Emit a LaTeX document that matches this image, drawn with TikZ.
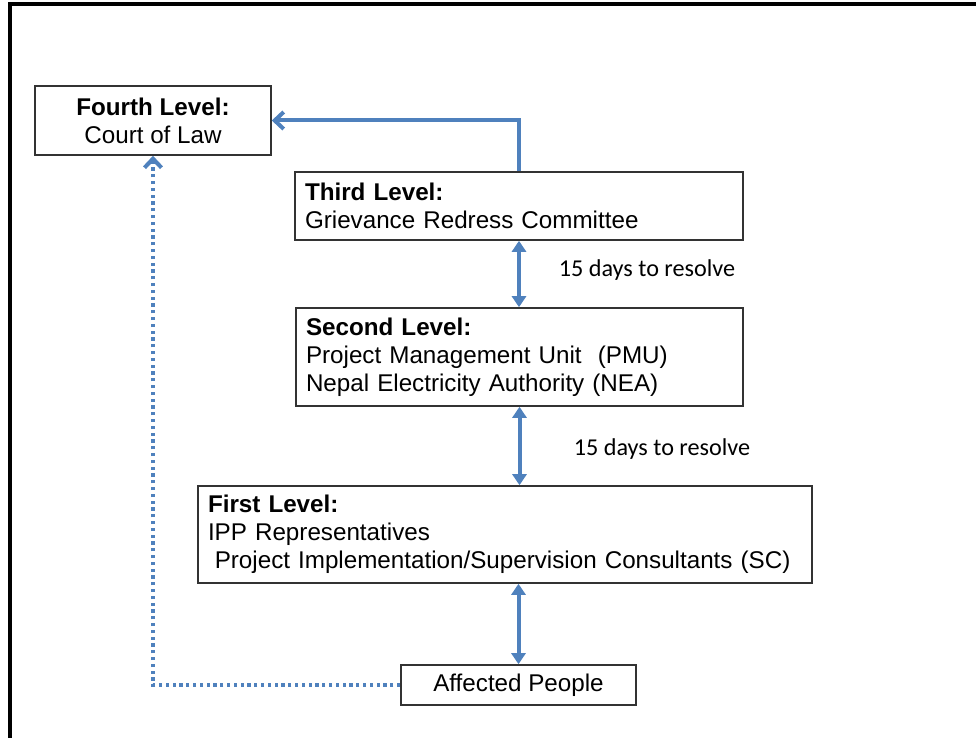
\documentclass[tikz,border=0pt]{standalone}
\usepackage{fontspec}
\setmainfont{Liberation Sans}
\newfontfamily\labelfont{Carlito}
\usetikzlibrary{arrows.meta}
\definecolor{grmblue}{RGB}{79,129,189}

\tikzset{
  level/.style={draw=black!80, line width=0.8pt, inner xsep=5pt, inner ysep=0pt,
    font=\fontsize{12.1}{14}\selectfont},
  leftbox/.style={level, align=left, text width=#1},
  days/.style={font=\labelfont\fontsize{12.1}{13}\selectfont},
  link/.style={draw=grmblue, line width=2pt},
  both/.style={link, {Triangle[length=5.5pt,width=7pt]}-{Triangle[length=5.5pt,width=7pt]}},
  escalate/.style={link, -{Straight Barb[length=4.5pt,width=8.5pt]}},
}

\begin{document}
\begin{tikzpicture}[x=0.5pt,y=-0.5pt]
\useasboundingbox (0,0) rectangle (976,738);
% frame
\draw[line width=1.6pt] (10,738) -- (10,4) -- (976,4);

% levels
\node[level, align=center, minimum width=118pt, minimum height=34.5pt] (fourth) at (153,120.5)
  {\textbf{Fourth Level:}\\Court of Law};
\node[leftbox=214pt, minimum height=34pt] (third) at (519,206)
  {\textbf{Third Level:}\\Grievance Redress Committee};
\node[leftbox=213.5pt, minimum height=49pt] (second) at (519.5,357)
  {\textbf{Second Level:}\\Project Management Unit\ \ (PMU)\\Nepal Electricity Authority (NEA)};
\node[leftbox=297pt, minimum height=48.5pt] (first) at (505,534.5)
  {\textbf{First Level:}\\IPP Representatives\\\hspace*{0.28em}Project Implementation/Supervision Consultants (SC)};
\node[level, align=center, minimum width=117.5pt, minimum height=20pt] (people) at (518.5,685)
  {Affected People};

% time limits
\node[days] (days1) at (647,270) {15 days to resolve};
\node[days] (days2) at (662,449) {15 days to resolve};

% connectors
\draw[escalate] (third.north) |- (fourth.east);
\draw[both] (third.south) -- (third.south |- second.north);
\draw[both] (second.south) -- (second.south |- first.north);
\draw[both] (people.north) -- (people.north |- first.south);
\draw[escalate, dash pattern=on 1.6pt off 1.8pt] (people.west) -| (fourth.south);
\end{tikzpicture}
\end{document}
